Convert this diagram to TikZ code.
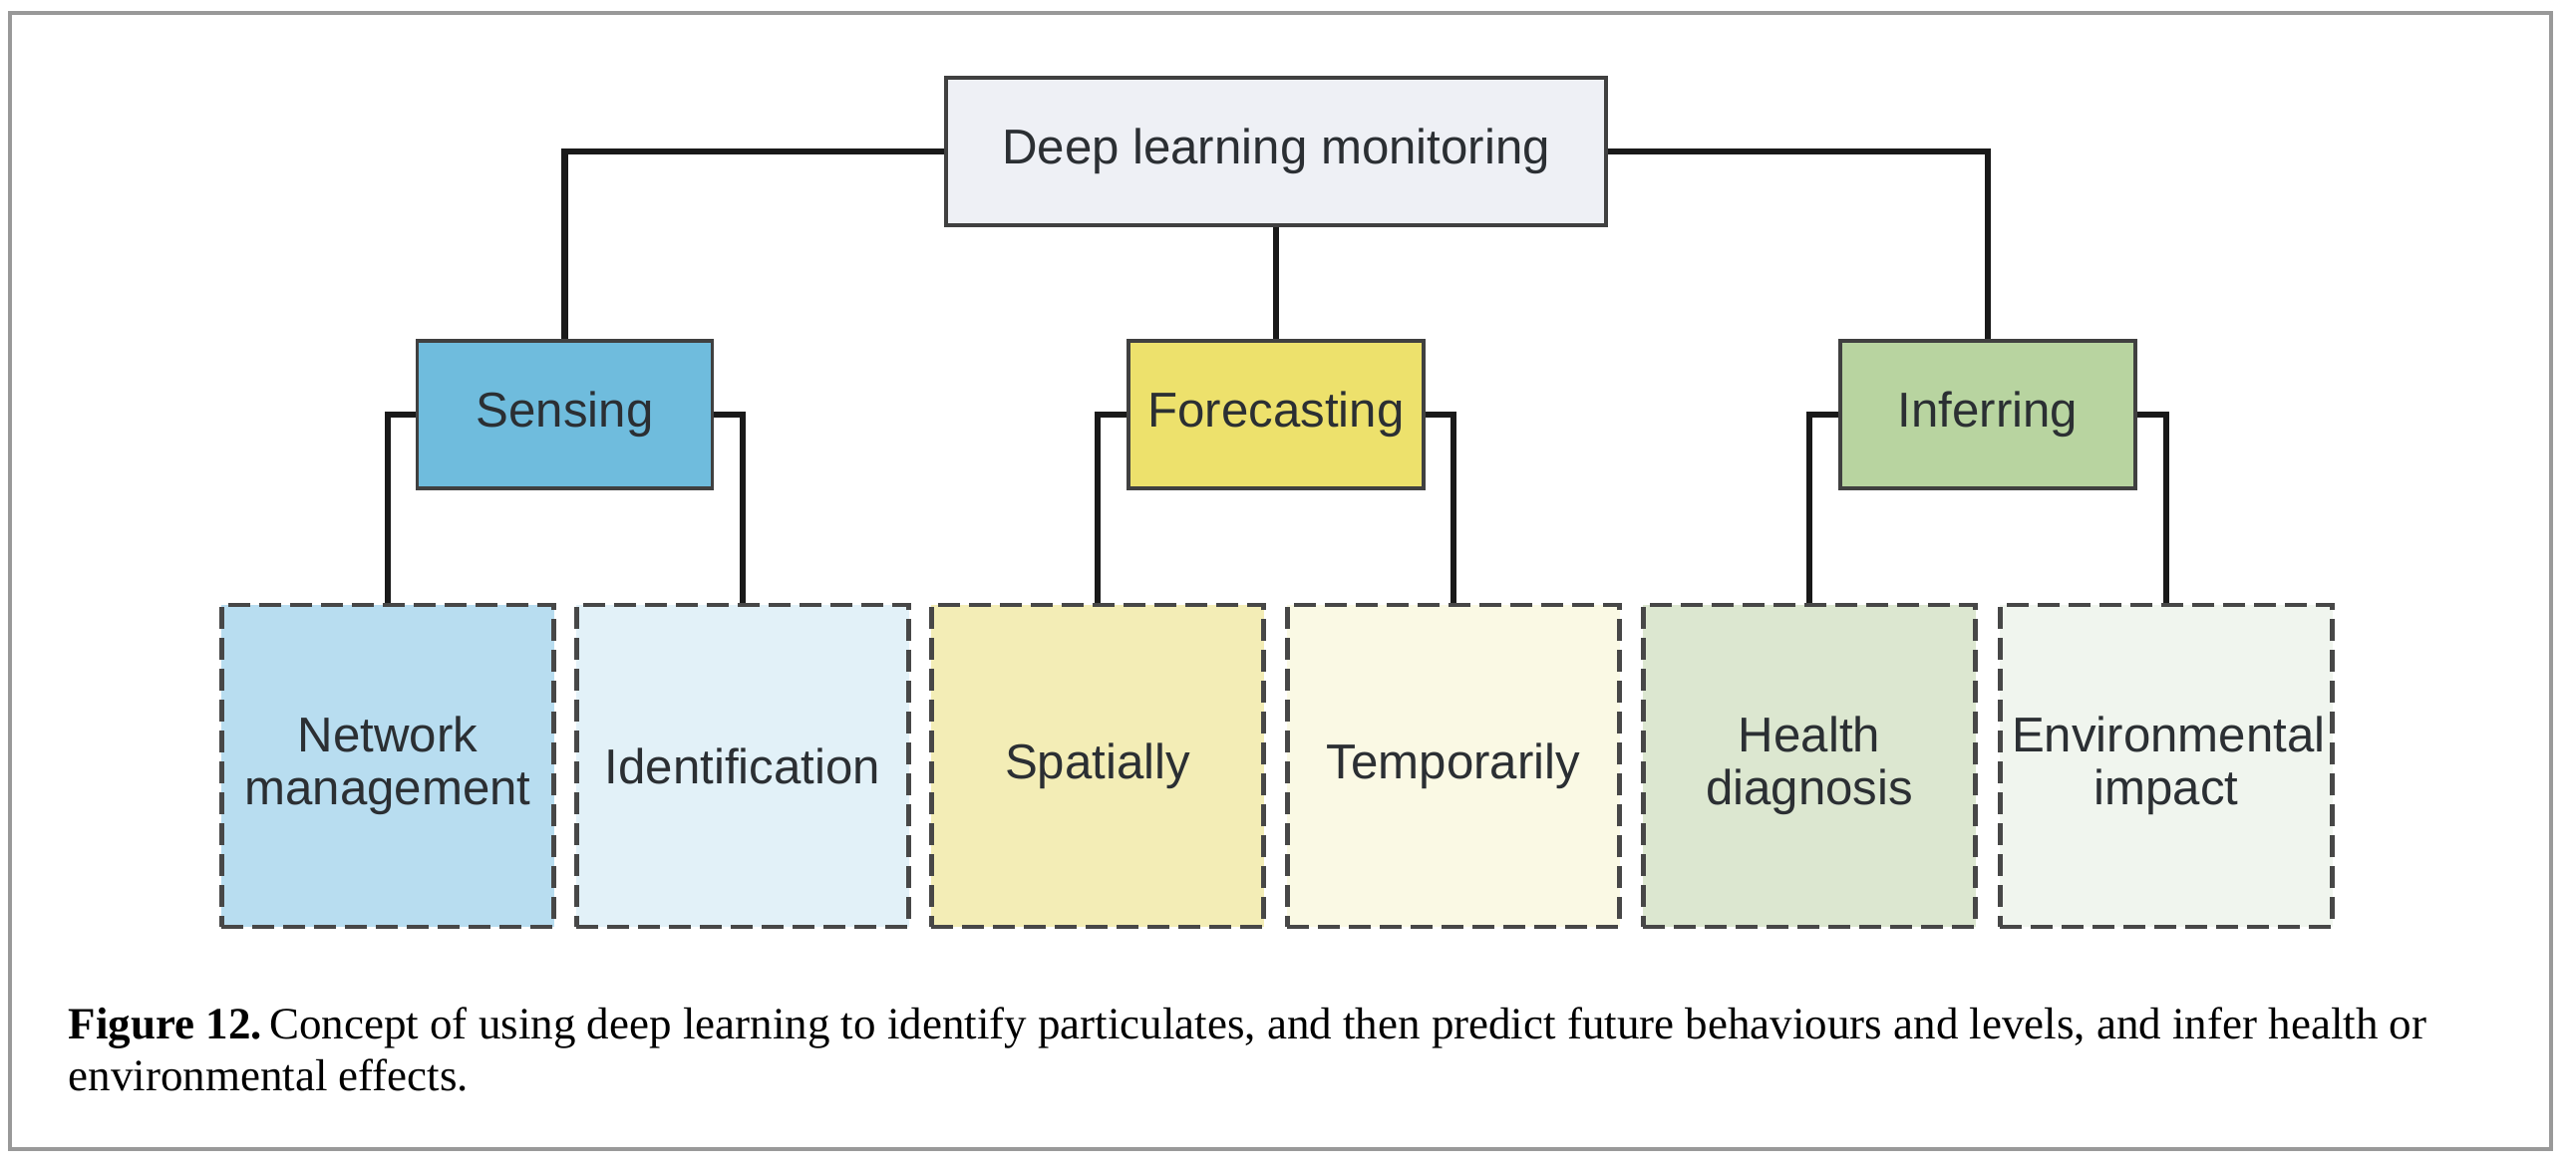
\documentclass[tikz,border=0pt]{standalone}
\usepackage{fontspec}
\setmainfont{Liberation Serif}
\newfontfamily\diagfont{Liberation Sans}
\usepackage{tikz}

\definecolor{rootfill}{HTML}{EEF0F5}
\definecolor{sensfill}{HTML}{6FBCDD}
\definecolor{forefill}{HTML}{EDE16C}
\definecolor{inffill}{HTML}{B8D4A0}
\definecolor{netfill}{HTML}{B8DDF0}
\definecolor{identfill}{HTML}{E2F1F8}
\definecolor{spatfill}{HTML}{F3EDB6}
\definecolor{tempfill}{HTML}{FAF9E4}
\definecolor{healthfill}{HTML}{DCE7D0}
\definecolor{envfill}{HTML}{F0F5EE}
\definecolor{boxtext}{HTML}{2B2F33}

\tikzset{
  mainbox/.style = {draw=black!75, line width=1pt, minimum width=2.96cm, minimum height=1.48cm,
                    font=\diagfont\fontsize{14}{15}\selectfont, text=boxtext, align=center},
  subbox/.style  = {draw=black!72, line width=1.3pt, dash pattern=on 0.22cm off 0.09cm,
                    minimum width=3.22cm, minimum height=3.23cm, text width=3.1cm,
                    font=\diagfont\fontsize{14}{15}\selectfont, text=boxtext, align=center},
  link/.style    = {line width=1.8pt, black!90}
}

\begin{document}
\begin{tikzpicture}
\useasboundingbox (0,0) rectangle (25.84,11.78);
\draw[black!40, line width=0.9pt] (0.10,0.25) rectangle (25.59,11.65);

\node[mainbox, fill=rootfill, minimum width=6.62cm] (root) at (12.80,10.26) {Deep learning monitoring};

\node[mainbox, fill=sensfill] (sens) at (5.665,7.62) {Sensing};
\node[mainbox, fill=forefill] (fore) at (12.80,7.62) {Forecasting};
\node[mainbox, fill=inffill]  (inf)  at (19.94,7.62) {Inferring};

\node[subbox, fill=netfill]    (net)    at (3.89,4.095)  {Network\\management\\[0.3cm]};
\node[subbox, fill=identfill]  (ident)  at (7.45,4.095)  {Identification\\[0.3cm]};
\node[subbox, fill=spatfill]   (spat)   at (11.01,4.095) {Spatially\\[0.3cm]};
\node[subbox, fill=tempfill]   (temp)   at (14.58,4.095) {Temporarily\\[0.3cm]};
\node[subbox, fill=healthfill] (health) at (18.15,4.095) {Health\\diagnosis\\[0.3cm]};
\node[subbox, fill=envfill]    (env)    at (21.73,4.095) {Environmental\\impact\\[0.3cm]};

\draw[link] (root.west) -| (sens.north);
\draw[link] (root.south) -- (fore.north);
\draw[link] (root.east) -| (inf.north);

\draw[link] (sens.west) -| (net.north);
\draw[link] (sens.east) -| (ident.north);
\draw[link] (fore.west) -| (spat.north);
\draw[link] (fore.east) -| (temp.north);
\draw[link] (inf.west) -| (health.north);
\draw[link] (inf.east) -| (env.north);

\node[anchor=base west, inner sep=0pt, font=\fontsize{12.8}{15}\selectfont] (cap1) at (0.68,1.35)
  {\textbf{Figure 12.}\,Concept of using deep learning to identify particulates, and then predict future behaviours and levels, and infer health or};
\node[anchor=base west, inner sep=0pt, font=\fontsize{12.8}{15}\selectfont] (cap2) at (0.68,0.83)
  {environmental effects.};
\end{tikzpicture}
\end{document}
